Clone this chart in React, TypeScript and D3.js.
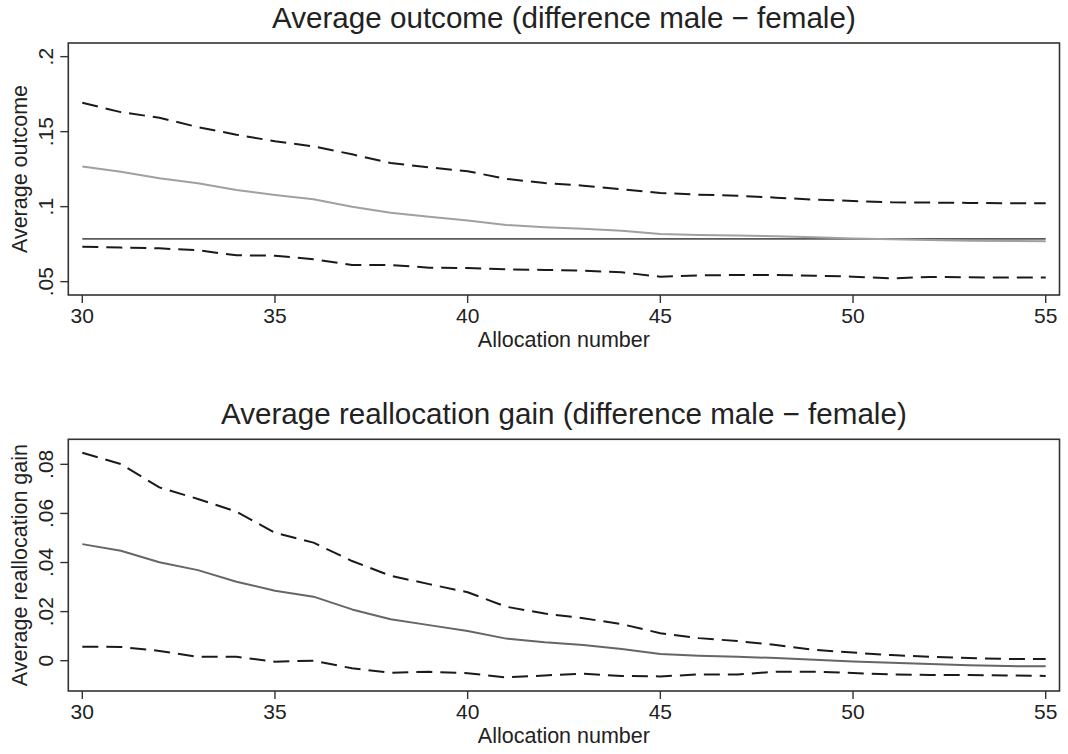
import React from "react";
import * as d3 from "d3";

// Allocation numbers on the horizontal axis
const allocation = [30, 31, 32, 33, 34, 35, 36, 37, 38, 39, 40, 41, 42, 43, 44, 45, 46, 47, 48, 49, 50, 51, 52, 53, 54, 55];

// Panel 1: average outcome, difference male − female, with confidence band
const outcomeDiff = [0.1267, 0.1233, 0.1189, 0.1156, 0.1111, 0.1078, 0.1049, 0.1, 0.096, 0.0933, 0.0907, 0.0878, 0.0863, 0.0853, 0.084, 0.0818, 0.0811, 0.0807, 0.0802, 0.0796, 0.0787, 0.0782, 0.0778, 0.0773, 0.0771, 0.0769];
const outcomeUpper = [0.1693, 0.163, 0.1593, 0.153, 0.148, 0.1436, 0.1402, 0.1349, 0.1291, 0.1262, 0.1236, 0.1185, 0.1157, 0.114, 0.1116, 0.1091, 0.108, 0.1073, 0.106, 0.1047, 0.1038, 0.1029, 0.1027, 0.1025, 0.1022, 0.1022];
const outcomeLower = [0.0733, 0.0727, 0.0722, 0.0709, 0.0676, 0.0673, 0.065, 0.0611, 0.0611, 0.0593, 0.0591, 0.0582, 0.0578, 0.0573, 0.0562, 0.0533, 0.0542, 0.0544, 0.0544, 0.054, 0.0533, 0.0522, 0.0531, 0.0529, 0.0527, 0.0527];
const outcomeReference = 0.0785;
const outcomeTicks = [0.05, 0.1, 0.15, 0.2];
const outcomeTickLabels = [".05", ".1", ".15", ".2"];

// Panel 2: average reallocation gain, difference male − female, with confidence band
const gainDiff = [0.0475, 0.0448, 0.0401, 0.0369, 0.0322, 0.0285, 0.0261, 0.0209, 0.0169, 0.0145, 0.0121, 0.009, 0.0075, 0.0064, 0.0048, 0.0027, 0.002, 0.0016, 0.0011, 0.0004, -0.0003, -0.0008, -0.0013, -0.0019, -0.0022, -0.0023];
const gainUpper = [0.0847, 0.0801, 0.0706, 0.0659, 0.0607, 0.0521, 0.0481, 0.0406, 0.0346, 0.0312, 0.0279, 0.022, 0.0192, 0.0173, 0.0149, 0.0112, 0.0092, 0.008, 0.0064, 0.0044, 0.0033, 0.0023, 0.0016, 0.0011, 0.0007, 0.0007];
const gainLower = [0.0057, 0.0056, 0.004, 0.0016, 0.0016, -0.0004, 0, -0.0031, -0.0049, -0.0045, -0.0051, -0.0068, -0.006, -0.0053, -0.0062, -0.0064, -0.0056, -0.0056, -0.0045, -0.0045, -0.005, -0.0056, -0.0058, -0.0058, -0.006, -0.0062];
const gainTicks = [0, 0.02, 0.04, 0.06, 0.08];
const gainTickLabels = ["0", ".02", ".04", ".06", ".08"];

const xTicks = [30, 35, 40, 45, 50, 55];
const xTickLabels = ["30", "35", "40", "45", "50", "55"];

const FONT = "'Liberation Sans', Arial, Helvetica, sans-serif";
const W = 1068;
const H = 754;

type Series = { values: number[]; color: string; width: number; dash?: string };

type PanelProps = {
  top: number;
  bottom: number;
  title: string;
  yTitle: string;
  yDomain: [number, number];
  yTicks: number[];
  yTickLabels: string[];
  series: Series[];
  reference?: number;
};

const left = 68.3;
const right = 1059.5;
const x = d3.scaleLinear().domain([30, 55]).range([82.3, 1045.7]);

function Panel({ top, bottom, title, yTitle, yDomain, yTicks, yTickLabels, series, reference }: PanelProps) {
  const y = d3.scaleLinear().domain(yDomain).range([bottom, top]);
  const line = d3
    .line<number>()
    .x((_, i) => x(allocation[i]))
    .y((v) => y(v));
  const midY = (top + bottom) / 2;
  return (
    <g>
      <text x={(left + right) / 2} y={top - 15} textAnchor="middle" fontSize={29.6} fill="#222" fontFamily={FONT}>
        {title}
      </text>
      {reference !== undefined && (
        <line x1={x(30)} x2={x(55)} y1={y(reference)} y2={y(reference)} stroke="#5a5a5a" strokeWidth={1.8} />
      )}
      {series.map((s, i) => (
        <path
          key={i}
          d={line(s.values) || ""}
          fill="none"
          stroke={s.color}
          strokeWidth={s.width}
          strokeDasharray={s.dash}
          strokeLinejoin="round"
        />
      ))}
      <rect x={left} y={top} width={right - left} height={bottom - top} fill="none" stroke="#333" strokeWidth={1.6} />
      {yTicks.map((t, i) => (
        <g key={t}>
          <line x1={left - 8} x2={left} y1={y(t)} y2={y(t)} stroke="#333" strokeWidth={1.4} />
          <text
            transform={`translate(${53},${y(t)}) rotate(-90)`}
            textAnchor="middle"
            fontSize={21}
            fill="#222"
            fontFamily={FONT}
          >
            {yTickLabels[i]}
          </text>
        </g>
      ))}
      <text
        transform={`translate(${27},${midY}) rotate(-90)`}
        textAnchor="middle"
        fontSize={21.5}
        fill="#222"
        fontFamily={FONT}
      >
        {yTitle}
      </text>
      {xTicks.map((t, i) => (
        <g key={t}>
          <line x1={x(t)} x2={x(t)} y1={bottom} y2={bottom + 8} stroke="#333" strokeWidth={1.4} />
          <text x={x(t)} y={bottom + 28} textAnchor="middle" fontSize={21} fill="#222" fontFamily={FONT}>
            {xTickLabels[i]}
          </text>
        </g>
      ))}
      <text x={(left + right) / 2} y={bottom + 52} textAnchor="middle" fontSize={21.5} fill="#222" fontFamily={FONT}>
        Allocation number
      </text>
    </g>
  );
}

export default function App() {
  return (
    <svg
      width={W}
      height={H}
      viewBox={`0 0 ${W} ${H}`}
      style={{ position: "absolute", left: 0, top: 0, background: "#fff" }}
    >
      <rect x={0} y={0} width={W} height={H} fill="#fff" />
      <Panel
        top={43}
        bottom={295}
        title="Average outcome (difference male − female)"
        yTitle="Average outcome"
        yDomain={[0.0411, 0.2091]}
        yTicks={outcomeTicks}
        yTickLabels={outcomeTickLabels}
        reference={outcomeReference}
        series={[
          { values: outcomeDiff, color: "#a0a0a0", width: 2 },
          { values: outcomeUpper, color: "#1a1a1a", width: 2, dash: "16 8" },
          { values: outcomeLower, color: "#1a1a1a", width: 2, dash: "16 8" },
        ]}
      />
      <Panel
        top={439.3}
        bottom={691}
        title="Average reallocation gain (difference male − female)"
        yTitle="Average reallocation gain"
        yDomain={[-0.01234, 0.0902]}
        yTicks={gainTicks}
        yTickLabels={gainTickLabels}
        series={[
          { values: gainDiff, color: "#666666", width: 2 },
          { values: gainUpper, color: "#1a1a1a", width: 2, dash: "16 8" },
          { values: gainLower, color: "#1a1a1a", width: 2, dash: "16 8" },
        ]}
      />
    </svg>
  );
}
